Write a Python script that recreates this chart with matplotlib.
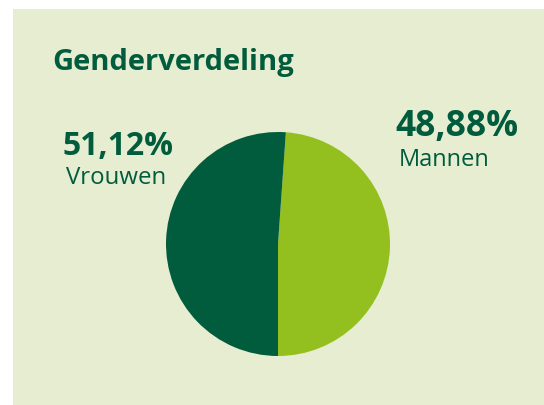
import matplotlib
matplotlib.use("Agg")
import matplotlib.pyplot as plt

labels = ["Mannen", "Vrouwen"]
values = [48.88, 51.12]
pct_labels = ["48,88%", "51,12%"]
colors = ["#93C01F", "#005C3C"]

W, H = 544, 405
fig = plt.figure(figsize=(W / 100, H / 100), dpi=100)
fig.patch.set_facecolor("white")

def fx(x):
    return x / W

def fy(y):
    return 1 - y / H

# panel background
bg = fig.add_axes([fx(13), fy(405), fx(544) - fx(13), fy(9) - fy(405)], zorder=0)
bg.set_facecolor("#E6EDD0")
bg.set_xticks([])
bg.set_yticks([])
for s in bg.spines.values():
    s.set_visible(False)

cx, cy, r = 278, 244, 112
ax = fig.add_axes([fx(cx - r), fy(cy + r), 2 * r / W, 2 * r / H], zorder=1)
ax.pie(values, colors=colors, startangle=-90, counterclock=True,
       wedgeprops=dict(linewidth=0), radius=1)
ax.set_aspect("equal")
ax.set_xlim(-1, 1)
ax.set_ylim(-1, 1)
ax.axis("off")

txt = "#005C3C"
font = "Open Sans"
fig.text(fx(52), fy(70), "Genderverdeling", fontsize=21, fontweight="bold",
         color=txt, family=font, va="baseline", ha="left", zorder=3)
fig.text(fx(63), fy(155), pct_labels[1], fontsize=23, fontweight="bold",
         color=txt, family=font, va="baseline", ha="left", zorder=3)
fig.text(fx(66), fy(184), labels[1], fontsize=17.3, color=txt, family=font,
         va="baseline", ha="left", zorder=3)
fig.text(fx(395), fy(136), pct_labels[0], fontsize=25.5, fontweight="bold",
         color=txt, family=font, va="baseline", ha="left", zorder=3)
fig.text(fx(399), fy(166), labels[0], fontsize=17, color=txt, family=font,
         va="baseline", ha="left", zorder=3)

fig.savefig("out.png", dpi=100, facecolor="white")
